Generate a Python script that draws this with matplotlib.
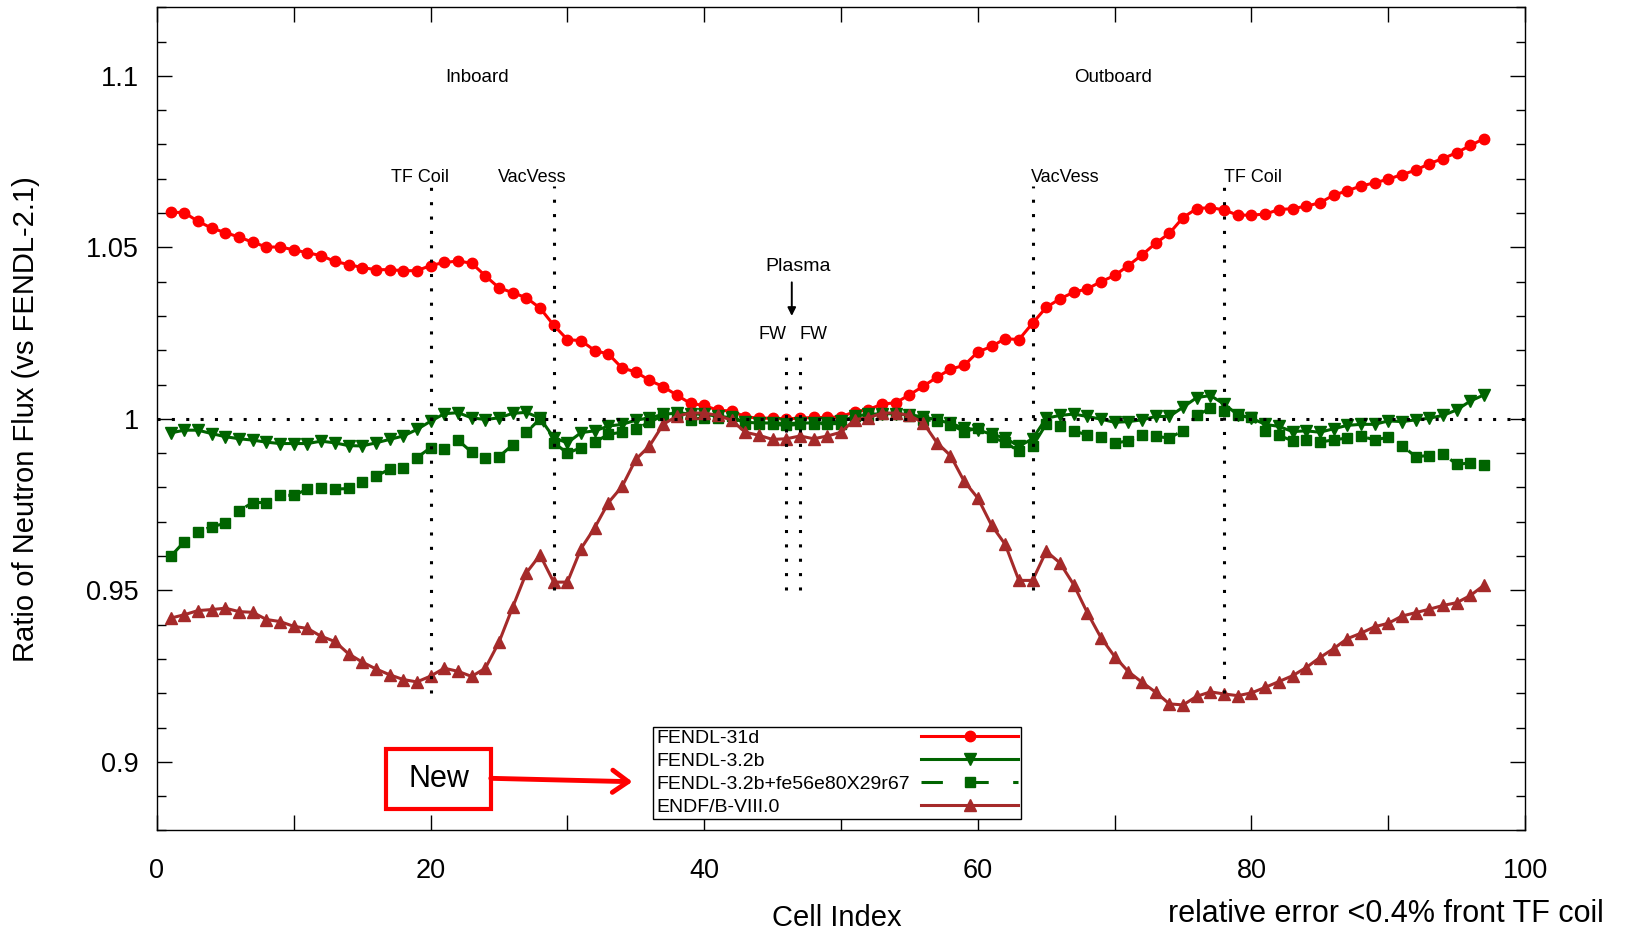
import numpy as np
import matplotlib
matplotlib.use('Agg')
import matplotlib.pyplot as plt
from matplotlib.patches import Rectangle

plt.rcParams['font.family'] = ['Liberation Sans', 'DejaVu Sans']

# cell index 1..97
cell = np.arange(1, 98)

fendl31d = [1.0603, 1.0601, 1.0576, 1.0556, 1.0543, 1.0530, 1.0515, 1.0501, 1.0501, 1.0493,
            1.0484, 1.0476, 1.0459, 1.0450, 1.0441, 1.0435, 1.0435, 1.0432, 1.0432, 1.0447,
            1.0456, 1.0460, 1.0454, 1.0417, 1.0382, 1.0368, 1.0353, 1.0323, 1.0273, 1.0231,
            1.0228, 1.0199, 1.0189, 1.0148, 1.0137, 1.0112, 1.0094, 1.0069, 1.0045, 1.0039,
            1.0025, 1.0023, 1.0006, 1.0002, 1.0002, 1.0000, 1.0002, 1.0004, 1.0004, 1.0006,
            1.0021, 1.0027, 1.0043, 1.0047, 1.0070, 1.0095, 1.0121, 1.0145, 1.0156, 1.0195,
            1.0211, 1.0234, 1.0231, 1.0279, 1.0325, 1.0350, 1.0369, 1.0379, 1.0400, 1.0418,
            1.0447, 1.0478, 1.0512, 1.0541, 1.0587, 1.0613, 1.0616, 1.0609, 1.0594, 1.0594,
            1.0597, 1.0610, 1.0613, 1.0620, 1.0630, 1.0652, 1.0665, 1.0679, 1.0688, 1.0699,
            1.0712, 1.0725, 1.0744, 1.0759, 1.0776, 1.0797, 1.0817]

fendl32b = [0.9959, 0.9967, 0.9967, 0.9957, 0.9948, 0.9942, 0.9938, 0.9932, 0.9928, 0.9928,
            0.9928, 0.9935, 0.9930, 0.9922, 0.9921, 0.9930, 0.9940, 0.9950, 0.9969, 0.9993,
            1.0015, 1.0018, 1.0003, 0.9998, 1.0003, 1.0016, 1.0019, 1.0002, 0.9945, 0.9930,
            0.9960, 0.9965, 0.9979, 0.9984, 0.9996, 1.0003, 1.0013, 1.0017, 1.0015, 1.0013,
            1.0008, 1.0003, 0.9990, 0.9988, 0.9988, 0.9986, 0.9988, 0.9988, 0.9988, 0.9993,
            1.0008, 1.0013, 1.0015, 1.0015, 1.0012, 1.0006, 0.9997, 0.9987, 0.9973, 0.9968,
            0.9955, 0.9944, 0.9920, 0.9942, 1.0002, 1.0010, 1.0014, 1.0007, 0.9999, 0.9990,
            0.9992, 0.9997, 1.0007, 1.0007, 1.0034, 1.0062, 1.0068, 1.0043, 1.0012, 1.0002,
            0.9984, 0.9978, 0.9963, 0.9965, 0.9961, 0.9971, 0.9981, 0.9984, 0.9984, 0.9994,
            0.9992, 0.9997, 1.0002, 1.0010, 1.0026, 1.0052, 1.0070]

fendl32b_fe56 = [0.9599, 0.9642, 0.9669, 0.9686, 0.9695, 0.9732, 0.9756, 0.9756, 0.9777, 0.9777,
                 0.9795, 0.9797, 0.9795, 0.9797, 0.9816, 0.9833, 0.9853, 0.9856, 0.9887, 0.9916,
                 0.9913, 0.9938, 0.9903, 0.9887, 0.9890, 0.9924, 0.9961, 1.0000, 0.9931, 0.9900,
                 0.9916, 0.9932, 0.9955, 0.9961, 0.9971, 0.9990, 1.0010, 1.0012, 0.9998, 1.0003,
                 1.0003, 1.0008, 0.9986, 0.9984, 0.9984, 0.9981, 0.9984, 0.9986, 0.9986, 0.9986,
                 1.0008, 1.0008, 1.0015, 1.0013, 1.0008, 0.9998, 0.9994, 0.9983, 0.9963, 0.9973,
                 0.9946, 0.9932, 0.9905, 0.9920, 0.9985, 0.9978, 0.9965, 0.9953, 0.9946, 0.9929,
                 0.9936, 0.9952, 0.9949, 0.9944, 0.9966, 1.0010, 1.0031, 1.0023, 1.0010, 1.0004,
                 0.9965, 0.9952, 0.9936, 0.9939, 0.9932, 0.9939, 0.9944, 0.9949, 0.9939, 0.9946,
                 0.9922, 0.9890, 0.9893, 0.9897, 0.9868, 0.9871, 0.9866]

endf8 = [0.9419, 0.9429, 0.9441, 0.9444, 0.9448, 0.9438, 0.9436, 0.9415, 0.9409, 0.9395,
         0.9389, 0.9366, 0.9351, 0.9315, 0.9291, 0.9271, 0.9254, 0.9240, 0.9233, 0.9250,
         0.9273, 0.9264, 0.9249, 0.9273, 0.9349, 0.9451, 0.9551, 0.9603, 0.9524, 0.9524,
         0.9622, 0.9683, 0.9756, 0.9803, 0.9882, 0.9921, 0.9984, 1.0008, 1.0017, 1.0017,
         1.0010, 0.9996, 0.9961, 0.9952, 0.9940, 0.9942, 0.9950, 0.9942, 0.9950, 0.9961,
         0.9998, 1.0003, 1.0017, 1.0017, 1.0010, 0.9989, 0.9931, 0.9893, 0.9818, 0.9769,
         0.9690, 0.9634, 0.9529, 0.9529, 0.9614, 0.9580, 0.9517, 0.9435, 0.9362, 0.9307,
         0.9263, 0.9232, 0.9203, 0.9169, 0.9166, 0.9191, 0.9204, 0.9198, 0.9193, 0.9201,
         0.9217, 0.9234, 0.9251, 0.9275, 0.9304, 0.9330, 0.9359, 0.9375, 0.9394, 0.9404,
         0.9425, 0.9435, 0.9445, 0.9456, 0.9464, 0.9485, 0.9515]

# region boundaries: (cell, bottom, top)
boundaries = [(20, 0.92, 1.068), (29, 0.95, 1.068), (46, 0.95, 1.018),
              (47, 0.95, 1.018), (64, 0.95, 1.068), (78, 0.92, 1.068)]

fig = plt.figure(figsize=(16.42, 9.31), dpi=100)
ax = fig.add_axes([0.0956, 0.108, 0.8332, 0.8842])

dot = (0, (1.0, 3.7))

ax.plot(cell, fendl31d, '-', color='#ff0000', lw=2.2, marker='o', ms=7.5,
        label='FENDL-31d', zorder=3)
ax.plot(cell, fendl32b, '-', color='#006400', lw=2.2, marker='v', ms=8.5,
        label='FENDL-3.2b', zorder=3)
ax.plot(cell, fendl32b_fe56, color='#006400', lw=2.2, ls=(0, (7, 8)), marker='s', ms=7,
        label='FENDL-3.2b+fe56e80X29r67', zorder=3)
ax.plot(cell, endf8, '-', color='#a52a2a', lw=2.2, marker='^', ms=8.5,
        label='ENDF/B-VIII.0', zorder=3)

ax.axhline(1.0, color='black', lw=2.2, ls=dot, zorder=5)
for xb, y0, y1 in boundaries:
    ax.plot([xb, xb], [y0, y1], color='black', lw=2.2, ls=dot, zorder=5)

ax.set_xlim(0, 100)
ax.set_ylim(0.88, 1.12)

ax.set_xticks(range(0, 101, 10))
ax.set_xticklabels(['0', '', '20', '', '40', '', '60', '', '80', '', '100'])
ax.set_yticks([0.9, 0.95, 1.0, 1.05, 1.1])
ax.set_yticklabels(['0.9', '0.95', '1', '1.05', '1.1'])
ax.set_yticks(np.arange(0.88, 1.121, 0.01), minor=True)
ax.tick_params(axis='both', which='both', direction='in', top=True, right=True,
               width=1.0, labelsize=19.5)
ax.tick_params(axis='x', which='major', length=11, pad=20)
ax.tick_params(axis='y', which='major', length=11, pad=13)
ax.tick_params(axis='y', which='minor', length=6.5)
for s in ax.spines.values():
    s.set_linewidth(1.0)

ax.set_xlabel('Cell Index', fontsize=21, va='center')
ax.xaxis.set_label_coords(0.497, -0.1063)
ax.set_ylabel('Ratio of Neutron Flux (vs FENDL-2.1)', fontsize=21, va='center')
ax.yaxis.set_label_coords(-0.0958, 0.5)

# region labels
ax.text(23.4, 1.0994, 'Inboard', fontsize=13.5, ha='center', va='center')
ax.text(69.9, 1.0994, 'Outboard', fontsize=13.5, ha='center', va='center')
ax.text(19.2, 1.0705, 'TF Coil', fontsize=13, ha='center', va='center')
ax.text(27.4, 1.0705, 'VacVess', fontsize=13, ha='center', va='center')
ax.text(66.4, 1.0705, 'VacVess', fontsize=13, ha='center', va='center')
ax.text(80.1, 1.0705, 'TF Coil', fontsize=13, ha='center', va='center')
ax.text(46.9, 1.0443, 'Plasma', fontsize=14, ha='center', va='center')
ax.text(45.0, 1.0245, 'FW', fontsize=13, ha='center', va='center')
ax.text(48.0, 1.0245, 'FW', fontsize=13, ha='center', va='center')
ax.annotate('', xy=(46.4, 1.0300), xytext=(46.4, 1.0398),
            arrowprops=dict(arrowstyle='-|>', color='black', lw=1.4,
                            mutation_scale=12, shrinkA=0, shrinkB=0))

# "New" box with arrow
ax.add_patch(Rectangle((16.76, 0.8863), 7.64, 0.0174, facecolor='white',
                       edgecolor='#ff0000', lw=3.0, zorder=6))
ax.text(20.58, 0.8951, 'New', fontsize=22, ha='center', va='center', zorder=7)
ax.annotate('', xy=(34.75, 0.8942), xytext=(24.4, 0.8952),
            arrowprops=dict(arrowstyle='->,head_length=0.45,head_width=0.32',
                            color='#ff0000', lw=3.5, mutation_scale=25,
                            shrinkA=0, shrinkB=0), zorder=6)

leg = ax.legend(loc='upper left', bbox_to_anchor=(0.3629, 0.126), borderaxespad=0,
                markerfirst=False, numpoints=1, handlelength=5.0, handletextpad=0.3,
                borderpad=0.15, labelspacing=0.27, fontsize=14, fancybox=False,
                framealpha=1, edgecolor='black')
leg.get_frame().set_linewidth(1.0)
leg.set_zorder(8)
# left-align legend text, keep line samples on the right
column = leg._legend_handle_box.get_children()[0]
column.width = 362
for row in column.get_children():
    row.mode = 'expand'

fig.text(0.7113, 0.01, 'relative error <0.4% front TF coil', fontsize=22,
         ha='left', va='baseline')

fig.savefig('out.png', dpi=100)
